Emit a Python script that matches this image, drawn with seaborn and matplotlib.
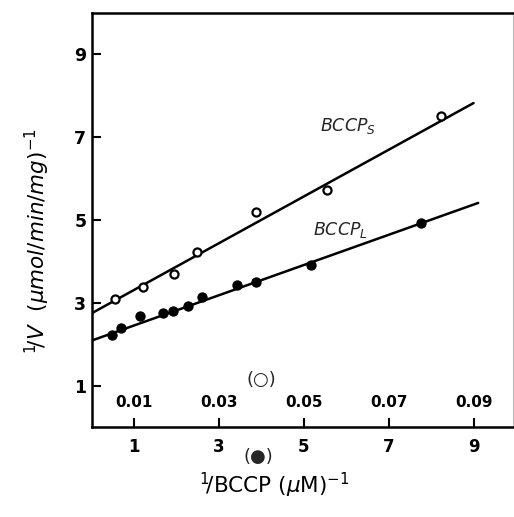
import numpy as np
import pandas as pd
import matplotlib
matplotlib.use("Agg")
import matplotlib.pyplot as plt
import seaborn as sns

# ---- data ----
# open circles (BCCP_S): x on the upper scale (0.01 ... 0.09 uM^-1)
s_x = [0.0055, 0.0120, 0.0194, 0.0249, 0.0387, 0.0554, 0.0824]
s_y = [3.09, 3.38, 3.70, 4.22, 5.19, 5.71, 7.50]
# filled circles (BCCP_L): x on the lower scale (1 ... 9 uM^-1)
l_x = [0.47, 0.69, 1.13, 1.67, 1.92, 2.26, 2.59, 3.41, 3.87, 5.16, 7.75]
l_y = [2.22, 2.39, 2.67, 2.75, 2.81, 2.93, 3.15, 3.43, 3.50, 3.91, 4.92]
# fitted lines (end points)
s_fit_x = [0.0, 0.0900]
s_fit_y = [2.75, 7.82]
l_fit_x = [0.0, 9.11]
l_fit_y = [2.09, 5.41]

bottom_ticks = [1, 3, 5, 7, 9]
bottom_labels = ["1", "3", "5", "7", "9"]
top_ticks = [0.01, 0.03, 0.05, 0.07, 0.09]
top_labels = ["0.01", "0.03", "0.05", "0.07", "0.09"]
y_ticks = [1, 3, 5, 7, 9]
y_labels = ["1", "3", "5", "7", "9"]

SCALE = 100.0  # lower scale = upper scale * 100

sns.set_style("white")
plt.rcParams["font.family"] = ["DejaVu Sans"]
plt.rcParams["mathtext.fontset"] = "dejavusans"

fig = plt.figure(figsize=(5.14, 5.17), dpi=100)
W, H = 514, 517
ax = fig.add_axes([91.9 / W, 1 - 427.1 / H, (513 - 91.9) / W, (427.1 - 12.7) / H])

df_s = pd.DataFrame({"x": np.array(s_x) * SCALE, "y": s_y})
df_l = pd.DataFrame({"x": l_x, "y": l_y})
df_sf = pd.DataFrame({"x": np.array(s_fit_x) * SCALE, "y": s_fit_y})
df_lf = pd.DataFrame({"x": l_fit_x, "y": l_fit_y})

sns.lineplot(data=df_sf, x="x", y="y", ax=ax, color="black", lw=1.8)
sns.lineplot(data=df_lf, x="x", y="y", ax=ax, color="black", lw=1.8)
sns.scatterplot(data=df_s, x="x", y="y", ax=ax, marker="o", s=34,
                facecolor="white", edgecolor="black", linewidth=1.6, zorder=3)
sns.scatterplot(data=df_l, x="x", y="y", ax=ax, marker="o", s=44,
                color="black", edgecolor="black", linewidth=0.8, zorder=3)

ax.set_xlim(0, 9.93)
ax.set_ylim(0, 10)

for side in ["left", "bottom", "top"]:
    ax.spines[side].set_visible(True)
    ax.spines[side].set_color("black")
    ax.spines[side].set_linewidth(1.8)
ax.spines["right"].set_visible(True)
ax.spines["right"].set_color("#bbbbbb")
ax.spines["right"].set_linewidth(0.8)

ax.set_xticks(bottom_ticks, labels=bottom_labels, fontweight="bold")
ax.set_yticks(y_ticks, labels=y_labels, fontweight="bold")
ax.tick_params(axis="x", direction="in", length=6.5, width=1.5, pad=8,
               labelsize=12, colors="black", bottom=True, top=False)
ax.tick_params(axis="y", direction="in", length=6.5, width=1.5, pad=4,
               labelsize=12.5, colors="black", left=True, right=False)

sec = ax.secondary_xaxis(0, functions=(lambda v: v / SCALE, lambda v: v * SCALE))
sec.set_alignment("top")
sec.spines["top"].set_visible(False)
sec.spines["bottom"].set_visible(False)
sec.set_xticks(top_ticks, labels=top_labels, fontweight="bold")
sec.tick_params(axis="x", length=0, pad=12, labelsize=11, colors="black")

ax.set_xlabel(r"$^{1}\!/$BCCP $(\mu$M$)^{-1}$", fontsize=15.5, color="black")
ax.xaxis.set_label_coords(0.433, -0.105)
ax.set_ylabel(r"$^{1}\!/V\ \ (\mu mol/min/mg)^{-1}$", fontsize=15.5, color="black")
ax.yaxis.set_label_coords(-0.095, 0.45)

ax.text(5.38, 7.15, r"$BCCP_S$", fontsize=12.5, ha="left", va="baseline")
ax.text(5.21, 4.64, r"$BCCP_L$", fontsize=12.5, ha="left", va="baseline")
ax.text(4.0, 1.14, "(○)", fontsize=13, ha="center", va="center")
ax.text(3.92, -0.715, "(●)", fontsize=13, ha="center", va="center", clip_on=False)

fig.savefig("out.png", dpi=100)
